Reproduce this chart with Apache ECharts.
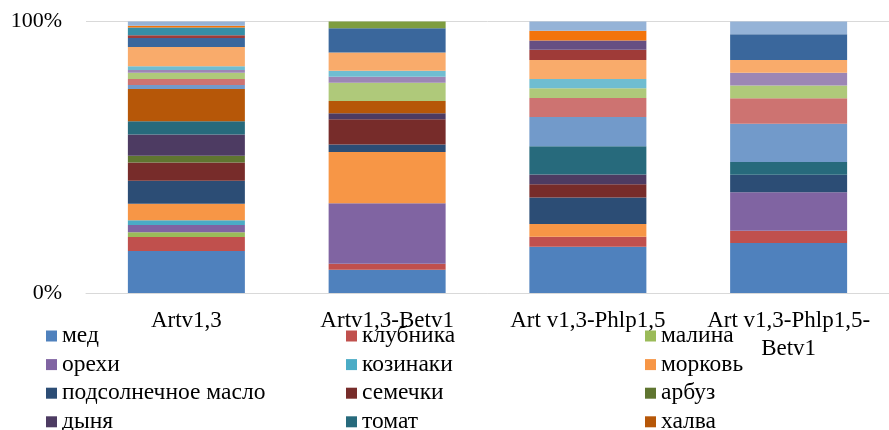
<!DOCTYPE html>
<html>
<head>
<meta charset="utf-8">
<script src="https://cdn.jsdelivr.net/npm/echarts@6/dist/echarts.min.js"></script>
<style>
  html, body { margin: 0; padding: 0; background: #fff; }
  #chart { width: 889px; height: 430px; }
</style>
</head>
<body>
<div id="chart"></div>
<script>
// Category tick labels (the last one wraps onto two lines)
const categories = ['Artv1,3', 'Artv1,3-Betv1', 'Art v1,3-Phlp1,5', 'Art v1,3-Phlp1,5-\nBetv1'];

// Shares per category (percent), one array per product
const med        = [15.4, 8.5, 17.0, 18.3];
const klubnika   = [5.1, 2.2, 3.6, 4.5];
const malina     = [1.7, 0, 0, 0];
const orehi      = [2.7, 22.2, 0, 14.2];
const kozinaki   = [1.7, 0, 0, 0];
const morkov     = [6.0, 18.8, 4.7, 0];
const maslo      = [8.5, 2.8, 9.7, 6.4];
const semechki   = [6.6, 9.2, 4.9, 0];
const arbuz      = [2.5, 0, 0, 0];
const dynya      = [7.8, 2.2, 3.6, 0];
const tomat      = [4.8, 0, 10.3, 4.7];
const halva      = [11.8, 4.5, 0, 0];
const p13        = [1.5, 0, 10.8, 14.0];
const p14        = [2.2, 0, 6.9, 9.3];
const p15        = [2.3, 6.7, 3.6, 4.7];
const p16        = [1.0, 2.2, 0, 4.7];
const p17        = [1.3, 2.2, 3.4, 0];
const p18        = [7.1, 6.7, 7.0, 4.7];
const p19        = [3.3, 8.9, 0, 9.4];
const p20        = [1.0, 0, 3.7, 0];
const p21        = [0, 2.5, 0, 0];
const p22        = [0, 0, 3.4, 0];
const p23        = [2.8, 0, 0, 0];
const p24        = [0.6, 0, 3.6, 0];
const p25        = [1.6, 0, 3.4, 4.7];

const seriesNames = [
  'мед', 'клубника', 'малина', 'орехи', 'козинаки', 'морковь',
  'подсолнечное масло', 'семечки', 'арбуз', 'дыня', 'томат', 'халва',
  'продукт 13', 'продукт 14', 'продукт 15', 'продукт 16', 'продукт 17', 'продукт 18',
  'продукт 19', 'продукт 20', 'продукт 21', 'продукт 22', 'продукт 23', 'продукт 24', 'продукт 25'
];
const seriesValues = [
  med, klubnika, malina, orehi, kozinaki, morkov, maslo, semechki, arbuz, dynya, tomat, halva,
  p13, p14, p15, p16, p17, p18, p19, p20, p21, p22, p23, p24, p25
];

const palette = [
  '#4F81BD', '#C0504D', '#9BBB59', '#8064A2', '#4BACC6', '#F79646',
  '#2C4D75', '#772C2A', '#5F7530', '#4D3B62', '#276A7C', '#B65708',
  '#729ACA', '#CD7371', '#AFC97A', '#9C86B5', '#6FBDD1', '#F9AB6B',
  '#3A679C', '#9F3B38', '#7E9D40', '#664F83', '#358EA6', '#F3740B', '#95B3D7'
];

// 100% stacking: each column is scaled to its own total
const totals = categories.map((_, i) => seriesValues.reduce((s, arr) => s + arr[i], 0));
const series = seriesNames.map((name, k) => ({
  name: name,
  type: 'bar',
  stack: 'total',
  barWidth: 117,
  itemStyle: { color: palette[k] },
  emphasis: { disabled: true },
  data: seriesValues[k].map((v, i) => v / totals[i] * 100)
}));

const FONT = '"Liberation Serif", "Times New Roman", serif';
const legendText = { fontFamily: FONT, fontSize: 23.5, color: '#000', lineHeight: 22 };
const legendBase = {
  orient: 'vertical', top: 324, height: 120, padding: 0, itemGap: 4.6,
  itemWidth: 11, itemHeight: 11, icon: 'rect', selectedMode: false,
  textStyle: legendText
};

const chart = echarts.init(document.getElementById('chart'));
chart.setOption({
  animation: false,
  color: palette,
  grid: { left: 86, top: 21.5, width: 814, height: 271.5, containLabel: false },
  legend: [
    Object.assign({ left: 46, data: [seriesNames[0], seriesNames[3], seriesNames[6], seriesNames[9]] }, legendBase),
    Object.assign({ left: 346, data: [seriesNames[1], seriesNames[4], seriesNames[7], seriesNames[10]] }, legendBase),
    Object.assign({ left: 645, data: [seriesNames[2], seriesNames[5], seriesNames[8], seriesNames[11]] }, legendBase)
  ],
  xAxis: {
    type: 'category',
    data: categories,
    axisLine: { show: true, lineStyle: { color: '#D9D9D9', width: 1 } },
    axisTick: { show: false },
    axisLabel: { fontFamily: FONT, fontSize: 23, color: '#000', margin: 14, lineHeight: 28, interval: 0 }
  },
  yAxis: {
    type: 'value',
    min: 0, max: 100, interval: 100,
    axisLine: { show: false },
    axisTick: { show: false },
    splitLine: { lineStyle: { color: '#D9D9D9', width: 1 } },
    axisLabel: { fontFamily: FONT, fontSize: 22, color: '#000', margin: 24, formatter: '{value}%' }
  },
  series: series
});
</script>
</body>
</html>
